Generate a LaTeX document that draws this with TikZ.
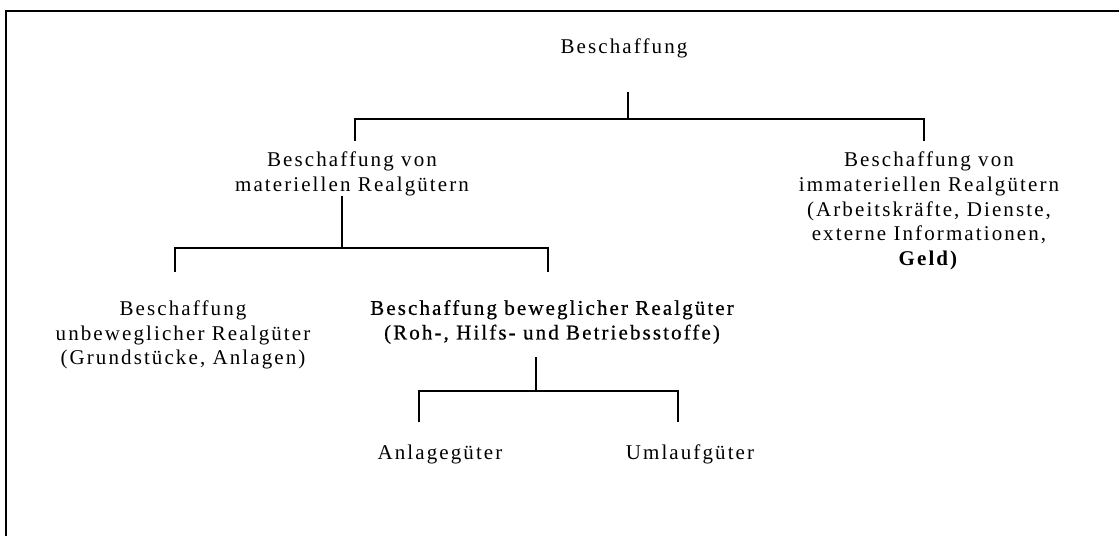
\documentclass[tikz,border=0pt]{standalone}
\usepackage{fontspec}
\setmainfont{Liberation Serif}[LetterSpace=10]
\newfontfamily\heavyserif{Liberation Serif}[LetterSpace=10,FakeBold=0.6]
\begin{document}
\begin{tikzpicture}[x=1pt,y=-1pt,
  lbl/.style={inner sep=0pt, align=center,
    font=\fontsize{21pt}{24.6pt}\selectfont},
  conn/.style={line width=1.5pt},
  frame/.style={line width=2pt}]
\useasboundingbox (0,0) rectangle (1119,536);
% open frame: top and left edges only
\draw[frame] (6,536) |- (1119,11);

% nodes
\node[lbl] (root) at (624,48) {Beschaffung};
\node[lbl] (mat) at (352,174) {Beschaffung von\\materiellen Realgütern};
\node[lbl] (imm) at (929,211) {Beschaffung von\\immateriellen Realgütern\\(Arbeitskräfte, Dienste,\\externe Informationen,\\\textbf{Geld)}};
\node[lbl] (unb) at (183,335) {Beschaffung\\unbeweglicher Realgüter\\(Grundstücke, Anlagen)};
\node[lbl, font=\fontsize{21pt}{24.6pt}\heavyserif] (bew) at (552,322) {Beschaffung beweglicher Realgüter\\(Roh-, Hilfs- und Betriebsstoffe)};
\node[lbl] (anl) at (440,454) {Anlagegüter};
\node[lbl] (uml) at (690,454) {Umlaufgüter};

% junction points of the tree
\coordinate (rTop) at (628,92);
\coordinate (rBus) at (628,119);
\coordinate (matTop) at (355,141);
\coordinate (immTop) at (924,141);
\coordinate (mTop) at (342,196);
\coordinate (mBus) at (342,248);
\coordinate (unbTop) at (175,272);
\coordinate (bewTop) at (548,272);
\coordinate (bTop) at (536,357);
\coordinate (bBus) at (536,391);
\coordinate (anlTop) at (419,422);
\coordinate (umlTop) at (678,422);

% connectors
\draw[conn] (rTop) -- (rBus);
\draw[conn] (matTop) |- (rBus) -| (immTop);
\draw[conn] (mTop) -- (mBus);
\draw[conn] (unbTop) |- (mBus) -| (bewTop);
\draw[conn] (bTop) -- (bBus);
\draw[conn] (anlTop) |- (bBus) -| (umlTop);
\end{tikzpicture}
\end{document}
